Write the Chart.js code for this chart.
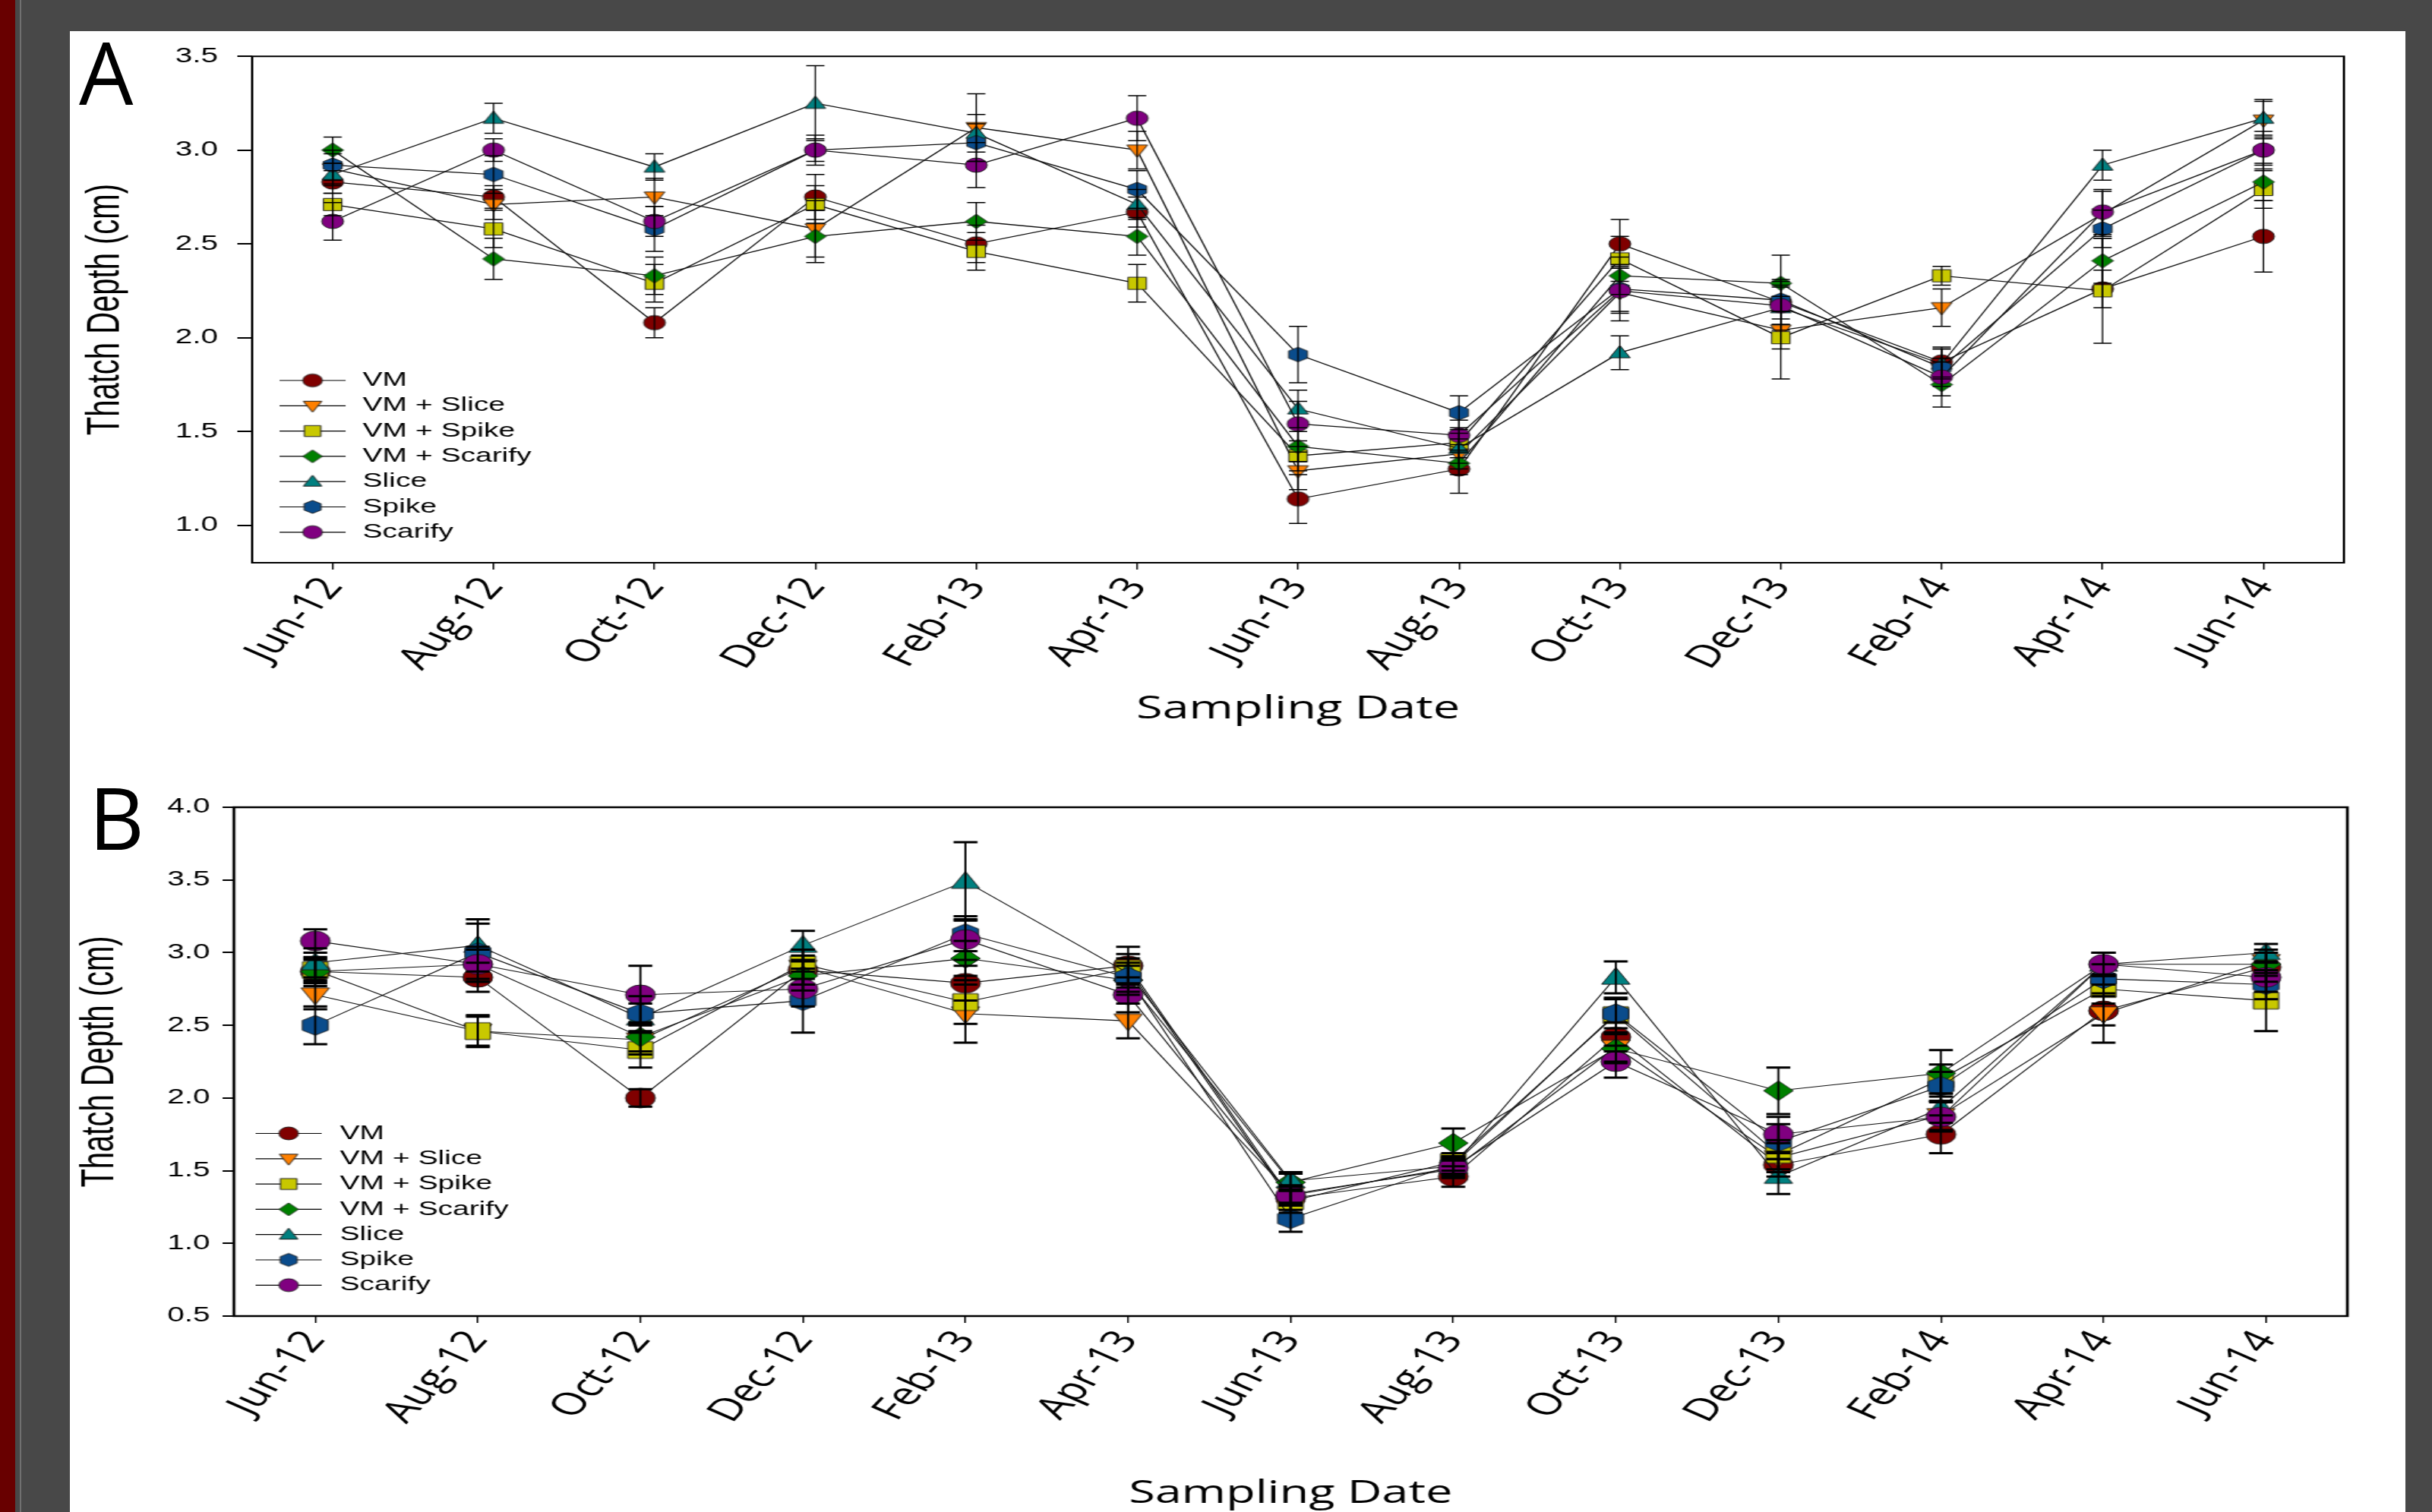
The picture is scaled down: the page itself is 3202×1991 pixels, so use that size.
<!DOCTYPE html>
<html>
<head>
<meta charset="utf-8">
<script src="https://cdn.jsdelivr.net/npm/chart.js@4.4.1/dist/chart.umd.min.js"></script>
<style>
html, body { margin: 0; padding: 0; width: 3202px; height: 1991px; overflow: hidden; background: #484848; }
#strip { position: absolute; left: 0; top: 0; width: 20px; height: 1991px; background: #680000; }
#edge { position: absolute; left: 26px; top: 0; width: 2px; height: 1991px; background: #707070; }
#panel { position: absolute; left: 92px; top: 41px; width: 3075px; height: 1950px; background: #fff; }
canvas { position: absolute; }
.tag { position: absolute; font-family: 'Open Sans'; font-size: 113px; line-height: 1; color: #000; }
</style>
</head>
<body>
<div id="strip"></div>
<div id="edge"></div>
<div id="panel"></div>
<div class="tag" style="left:104px;top:38px;">A</div>
<div class="tag" style="left:117px;top:1019px;">B</div>
<!-- drawn narrow, then stretched 1.5x wide like the original figure -->
<canvas id="chartA" width="2050" height="923" style="left:92px;top:41px;width:3075px;height:923px;"></canvas>
<canvas id="chartB" width="2050" height="987" style="left:92px;top:1010px;width:3075px;height:987px;"></canvas>
<script>
const months = ["Jun-12", "Aug-12", "Oct-12", "Dec-12", "Feb-13", "Apr-13", "Jun-13",
                "Aug-13", "Oct-13", "Dec-13", "Feb-14", "Apr-14", "Jun-14"];
const treatments = ["VM", "VM + Slice", "VM + Spike", "VM + Scarify", "Slice", "Spike", "Scarify"];
const colors = ["#800000", "#ff8000", "#c8c800", "#008000", "#008080", "#0a4c8c", "#800080"];
const shapes = ["circle", "triangleDown", "square", "diamond", "triangle", "hexagon", "circle"];

const yTicksA = [1.0, 1.5, 2.0, 2.5, 3.0, 3.5];
const yTicksB = [0.5, 1.0, 1.5, 2.0, 2.5, 3.0, 3.5, 4.0];

// panel A means
const vmA         = [2.83, 2.75, 2.08, 2.75, 2.50, 2.67, 1.14, 1.30, 2.50, 2.19, 1.87, 2.26, 2.54];
const vmSliceA    = [2.90, 2.71, 2.75, 2.58, 3.12, 3.00, 1.29, 1.38, 2.24, 2.04, 2.16, 2.66, 3.16];
const vmSpikeA    = [2.71, 2.58, 2.29, 2.71, 2.46, 2.29, 1.37, 1.44, 2.42, 2.00, 2.33, 2.25, 2.79];
const vmScarifyA  = [3.00, 2.42, 2.33, 2.54, 2.62, 2.54, 1.42, 1.33, 2.33, 2.29, 1.75, 2.41, 2.83];
const sliceA      = [2.87, 3.17, 2.91, 3.25, 3.09, 2.71, 1.62, 1.41, 1.92, 2.16, 1.86, 2.92, 3.17];
const spikeA      = [2.92, 2.87, 2.58, 3.00, 3.04, 2.79, 1.91, 1.60, 2.26, 2.20, 1.84, 2.58, 3.00];
const scarifyA    = [2.62, 3.00, 2.62, 3.00, 2.92, 3.17, 1.54, 1.48, 2.25, 2.17, 1.79, 2.67, 3.00];

// panel A standard errors
const vmErrA        = [0.06, 0.06, 0.08, 0.12, 0.10, 0.08, 0.13, 0.13, 0.13, 0.12, 0.08, 0.10, 0.19];
const vmSliceErrA   = [0.08, 0.08, 0.10, 0.15, 0.18, 0.10, 0.10, 0.08, 0.15, 0.10, 0.10, 0.12, 0.10];
const vmSpikeErrA   = [0.06, 0.10, 0.10, 0.10, 0.10, 0.10, 0.08, 0.08, 0.12, 0.22, 0.05, 0.28, 0.10];
const vmScarifyErrA = [0.07, 0.11, 0.10, 0.14, 0.10, 0.10, 0.08, 0.06, 0.10, 0.15, 0.12, 0.12, 0.10];
const sliceErrA     = [0.06, 0.08, 0.07, 0.20, 0.10, 0.08, 0.10, 0.08, 0.09, 0.12, 0.08, 0.08, 0.10];
const spikeErrA     = [0.08, 0.10, 0.12, 0.08, 0.10, 0.10, 0.15, 0.09, 0.12, 0.10, 0.10, 0.10, 0.10];
const scarifyErrA   = [0.10, 0.06, 0.08, 0.06, 0.12, 0.12, 0.12, 0.08, 0.12, 0.10, 0.10, 0.12, 0.08];

// panel B means
const vmB         = [2.87, 2.83, 2.00, 2.88, 2.79, 2.91, 1.31, 1.46, 2.42, 1.54, 1.75, 2.60, 2.90];
const vmSliceB    = [2.71, 2.46, 2.40, 2.90, 2.58, 2.53, 1.34, 1.51, 2.35, 1.59, 1.88, 2.58, 2.94];
const vmSpikeB    = [2.88, 2.46, 2.33, 2.92, 2.66, 2.89, 1.29, 1.56, 2.57, 1.61, 2.13, 2.75, 2.67];
const vmScarifyB  = [2.87, 2.92, 2.42, 2.84, 2.96, 2.81, 1.42, 1.69, 2.34, 2.05, 2.17, 2.92, 2.92];
const sliceB      = [2.93, 3.05, 2.55, 3.05, 3.49, 2.86, 1.43, 1.53, 2.83, 1.46, 1.93, 2.92, 3.00];
const spikeB      = [2.50, 3.00, 2.58, 2.67, 3.13, 2.83, 1.17, 1.54, 2.58, 1.70, 2.08, 2.82, 2.78];
const scarifyB    = [3.08, 2.92, 2.71, 2.75, 3.09, 2.71, 1.33, 1.52, 2.25, 1.75, 1.87, 2.92, 2.83];

// panel B standard errors
const vmErrB        = [0.08, 0.10, 0.06, 0.10, 0.12, 0.13, 0.08, 0.07, 0.10, 0.08, 0.13, 0.10, 0.10];
const vmSliceErrB   = [0.10, 0.10, 0.10, 0.12, 0.20, 0.12, 0.06, 0.06, 0.10, 0.10, 0.10, 0.20, 0.08];
const vmSpikeErrB   = [0.08, 0.11, 0.12, 0.10, 0.15, 0.10, 0.08, 0.06, 0.12, 0.10, 0.10, 0.10, 0.21];
const vmScarifyErrB = [0.10, 0.10, 0.10, 0.10, 0.12, 0.10, 0.06, 0.10, 0.10, 0.16, 0.16, 0.08, 0.08];
const sliceErrB     = [0.10, 0.18, 0.10, 0.10, 0.27, 0.10, 0.06, 0.06, 0.11, 0.12, 0.10, 0.08, 0.06];
const spikeErrB     = [0.13, 0.20, 0.12, 0.22, 0.12, 0.10, 0.09, 0.06, 0.10, 0.12, 0.10, 0.10, 0.10];
const scarifyErrB   = [0.08, 0.12, 0.20, 0.12, 0.14, 0.12, 0.06, 0.06, 0.11, 0.12, 0.10, 0.08, 0.10];

const seriesA = [vmA, vmSliceA, vmSpikeA, vmScarifyA, sliceA, spikeA, scarifyA];
const errorsA = [vmErrA, vmSliceErrA, vmSpikeErrA, vmScarifyErrA, sliceErrA, spikeErrA, scarifyErrA];
const seriesB = [vmB, vmSliceB, vmSpikeB, vmScarifyB, sliceB, spikeB, scarifyB];
const errorsB = [vmErrB, vmSliceErrB, vmSpikeErrB, vmScarifyErrB, sliceErrB, spikeErrB, scarifyErrB];

// marker images (SigmaPlot style symbols with a dark outline)
const makeMarker = (shape, color, r) => {
    const c = document.createElement("canvas");
    const size = Math.ceil(r * 2 + 4);
    c.width = size; c.height = size;
    const g = c.getContext("2d");
    const m = size / 2;
    g.fillStyle = color;
    g.strokeStyle = "#1a1a1a";
    g.lineWidth = 1;
    g.beginPath();
    if (shape === "circle") {
        g.arc(m, m, r, 0, Math.PI * 2);
    } else if (shape === "square") {
        const s = r * 0.85;
        g.rect(m - s, m - s, s * 2, s * 2);
    } else if (shape === "diamond") {
        g.moveTo(m, m - r); g.lineTo(m + r, m); g.lineTo(m, m + r); g.lineTo(m - r, m);
        g.closePath();
    } else if (shape === "triangle") {
        g.moveTo(m, m - r); g.lineTo(m + r * 0.95, m + r * 0.7); g.lineTo(m - r * 0.95, m + r * 0.7);
        g.closePath();
    } else if (shape === "triangleDown") {
        g.moveTo(m, m + r); g.lineTo(m + r * 0.95, m - r * 0.7); g.lineTo(m - r * 0.95, m - r * 0.7);
        g.closePath();
    } else if (shape === "hexagon") {
        for (let k = 0; k < 6; k++) {
            const a = Math.PI / 2 + k * Math.PI / 3;
            const px = m + r * Math.cos(a), py = m - r * Math.sin(a);
            if (k === 0) g.moveTo(px, py); else g.lineTo(px, py);
        }
        g.closePath();
    }
    g.fill();
    g.stroke();
    return c;
};

const markersA = shapes.map((s, i) => makeMarker(s, colors[i], 9.5));
const markersB = shapes.map((s, i) => makeMarker(s, colors[i], 13));
const markersLegend = shapes.map((s, i) => makeMarker(s, colors[i], 8.5));

// error bars from the y scale
const errorBars = {
    id: "errorBars",
    afterDatasetsDraw(chart, args, opts) {
        const ctx = chart.ctx;
        const y = chart.scales.y;
        ctx.save();
        ctx.strokeStyle = "#000";
        chart.data.datasets.forEach((ds, i) => {
            const meta = chart.getDatasetMeta(i);
            meta.data.forEach((pt, j) => {
                const top = y.getPixelForValue(ds.data[j] + ds.errors[j]);
                const bot = y.getPixelForValue(ds.data[j] - ds.errors[j]);
                ctx.lineWidth = opts.width;
                ctx.beginPath();
                ctx.moveTo(pt.x, top); ctx.lineTo(pt.x, bot);
                ctx.stroke();
                ctx.lineWidth = opts.capWidth;
                ctx.beginPath();
                ctx.moveTo(pt.x - opts.cap, top); ctx.lineTo(pt.x + opts.cap, top);
                ctx.moveTo(pt.x - opts.cap, bot); ctx.lineTo(pt.x + opts.cap, bot);
                ctx.stroke();
            });
        });
        ctx.restore();
    }
};

// frame around the plot area
const frame = {
    id: "frame",
    afterDraw(chart, args, opts) {
        const {left, top, right, bottom} = chart.chartArea;
        const ctx = chart.ctx;
        ctx.save();
        ctx.strokeStyle = "#000";
        ctx.lineWidth = opts.width;
        ctx.strokeRect(left, top, right - left, bottom - top);
        ctx.restore();
    }
};

// legend: short line with the symbol on it, then the name
const lineLegend = {
    id: "lineLegend",
    afterDraw(chart, args, o) {
        const ctx = chart.ctx;
        ctx.save();
        ctx.font = "26px 'Liberation Sans'";
        ctx.fillStyle = "#000";
        ctx.textBaseline = "middle";
        chart.data.datasets.forEach((ds, i) => {
            const y = o.y + i * o.gap;
            ctx.strokeStyle = "#000";
            ctx.lineWidth = 1.2;
            ctx.beginPath();
            ctx.moveTo(o.x1, y); ctx.lineTo(o.x2, y);
            ctx.stroke();
            const m = markersLegend[i];
            ctx.drawImage(m, o.xm - m.width / 2, y - m.height / 2);
            ctx.fillText(ds.label, o.xt, y);
        });
        ctx.restore();
    }
};

const makeChart = (id, series, errors, markers, cfg) => {
    const ctx = document.getElementById(id).getContext("2d");
    return new Chart(ctx, {
        type: "line",
        data: {
            labels: months,
            datasets: treatments.map((name, i) => ({
                label: name,
                data: series[i],
                errors: errors[i],
                order: -i,
                borderColor: "#111",
                borderWidth: cfg.lineWidth,
                pointStyle: markers[i],
                pointRadius: 8,
                tension: 0,
                fill: false
            }))
        },
        options: {
            responsive: false,
            animation: false,
            devicePixelRatio: 1,
            layout: { padding: { top: cfg.padTop, right: cfg.padRight, left: 0, bottom: 0 } },
            plugins: {
                legend: { display: false },
                tooltip: { enabled: false },
                errorBars: cfg.errorBars,
                frame: { width: cfg.frameWidth },
                lineLegend: cfg.legend
            },
            scales: {
                x: {
                    type: "category",
                    offset: true,
                    grid: { display: true, drawOnChartArea: false, drawTicks: true, tickLength: 9,
                            color: "#000", lineWidth: 1.4, offset: false },
                    border: { display: false },
                    ticks: { color: "#000", font: { family: "Open Sans", size: 41 },
                             minRotation: 57, maxRotation: 57, padding: 2, autoSkip: false },
                    title: { display: true, text: "Sampling Date", color: "#000",
                             font: { family: "Open Sans", size: 42 }, padding: { top: 0, bottom: 5 } },
                    afterFit: (s) => { s.height = cfg.xHeight; }
                },
                y: {
                    min: cfg.yMin,
                    max: cfg.yMax,
                    afterBuildTicks: (s) => { s.ticks = cfg.yTicks.map((v) => ({ value: v })); },
                    grid: { drawOnChartArea: false, drawTicks: true, tickLength: cfg.tickLen,
                            color: "#000", lineWidth: 2 },
                    border: { display: false },
                    ticks: { color: "#000", font: { family: "Liberation Sans", size: 27 },
                             padding: cfg.tickPad, callback: (v) => Number(v).toFixed(1) },
                    title: { display: true, text: "Thatch Depth (cm)", color: "#000",
                             font: { family: "Liberation Sans", size: 40 },
                             padding: { top: cfg.titlePad, bottom: 0 } },
                    afterFit: (s) => { s.width = cfg.yWidth; }
                }
            }
        },
        plugins: [errorBars, frame, lineLegend]
    });
};

makeChart("chartA", seriesA, errorsA, markersA, {
    lineWidth: 1.3, padTop: 31, padRight: 54, xHeight: 223, yWidth: 160,
    yMin: 0.8, yMax: 3.5, yTicks: yTicksA, tickLen: 13, tickPad: 17, titlePad: 8,
    frameWidth: 2,
    errorBars: { width: 1.2, capWidth: 1.5, cap: 8 },
    legend: { x1: 184, x2: 242, xm: 213, xt: 257, y: 460, gap: 33.3 }
});

makeChart("chartB", seriesB, errorsB, markersB, {
    lineWidth: 1.1, padTop: 53, padRight: 51, xHeight: 264, yWidth: 144,
    yMin: 0.5, yMax: 4.0, yTicks: yTicksB, tickLen: 10, tickPad: 11, titlePad: 3,
    frameWidth: 2.5,
    errorBars: { width: 1.8, capWidth: 3, cap: 10.5 },
    legend: { x1: 163, x2: 221, xm: 192, xt: 237, y: 482.5, gap: 33.3 }
});
</script>
</body>
</html>
